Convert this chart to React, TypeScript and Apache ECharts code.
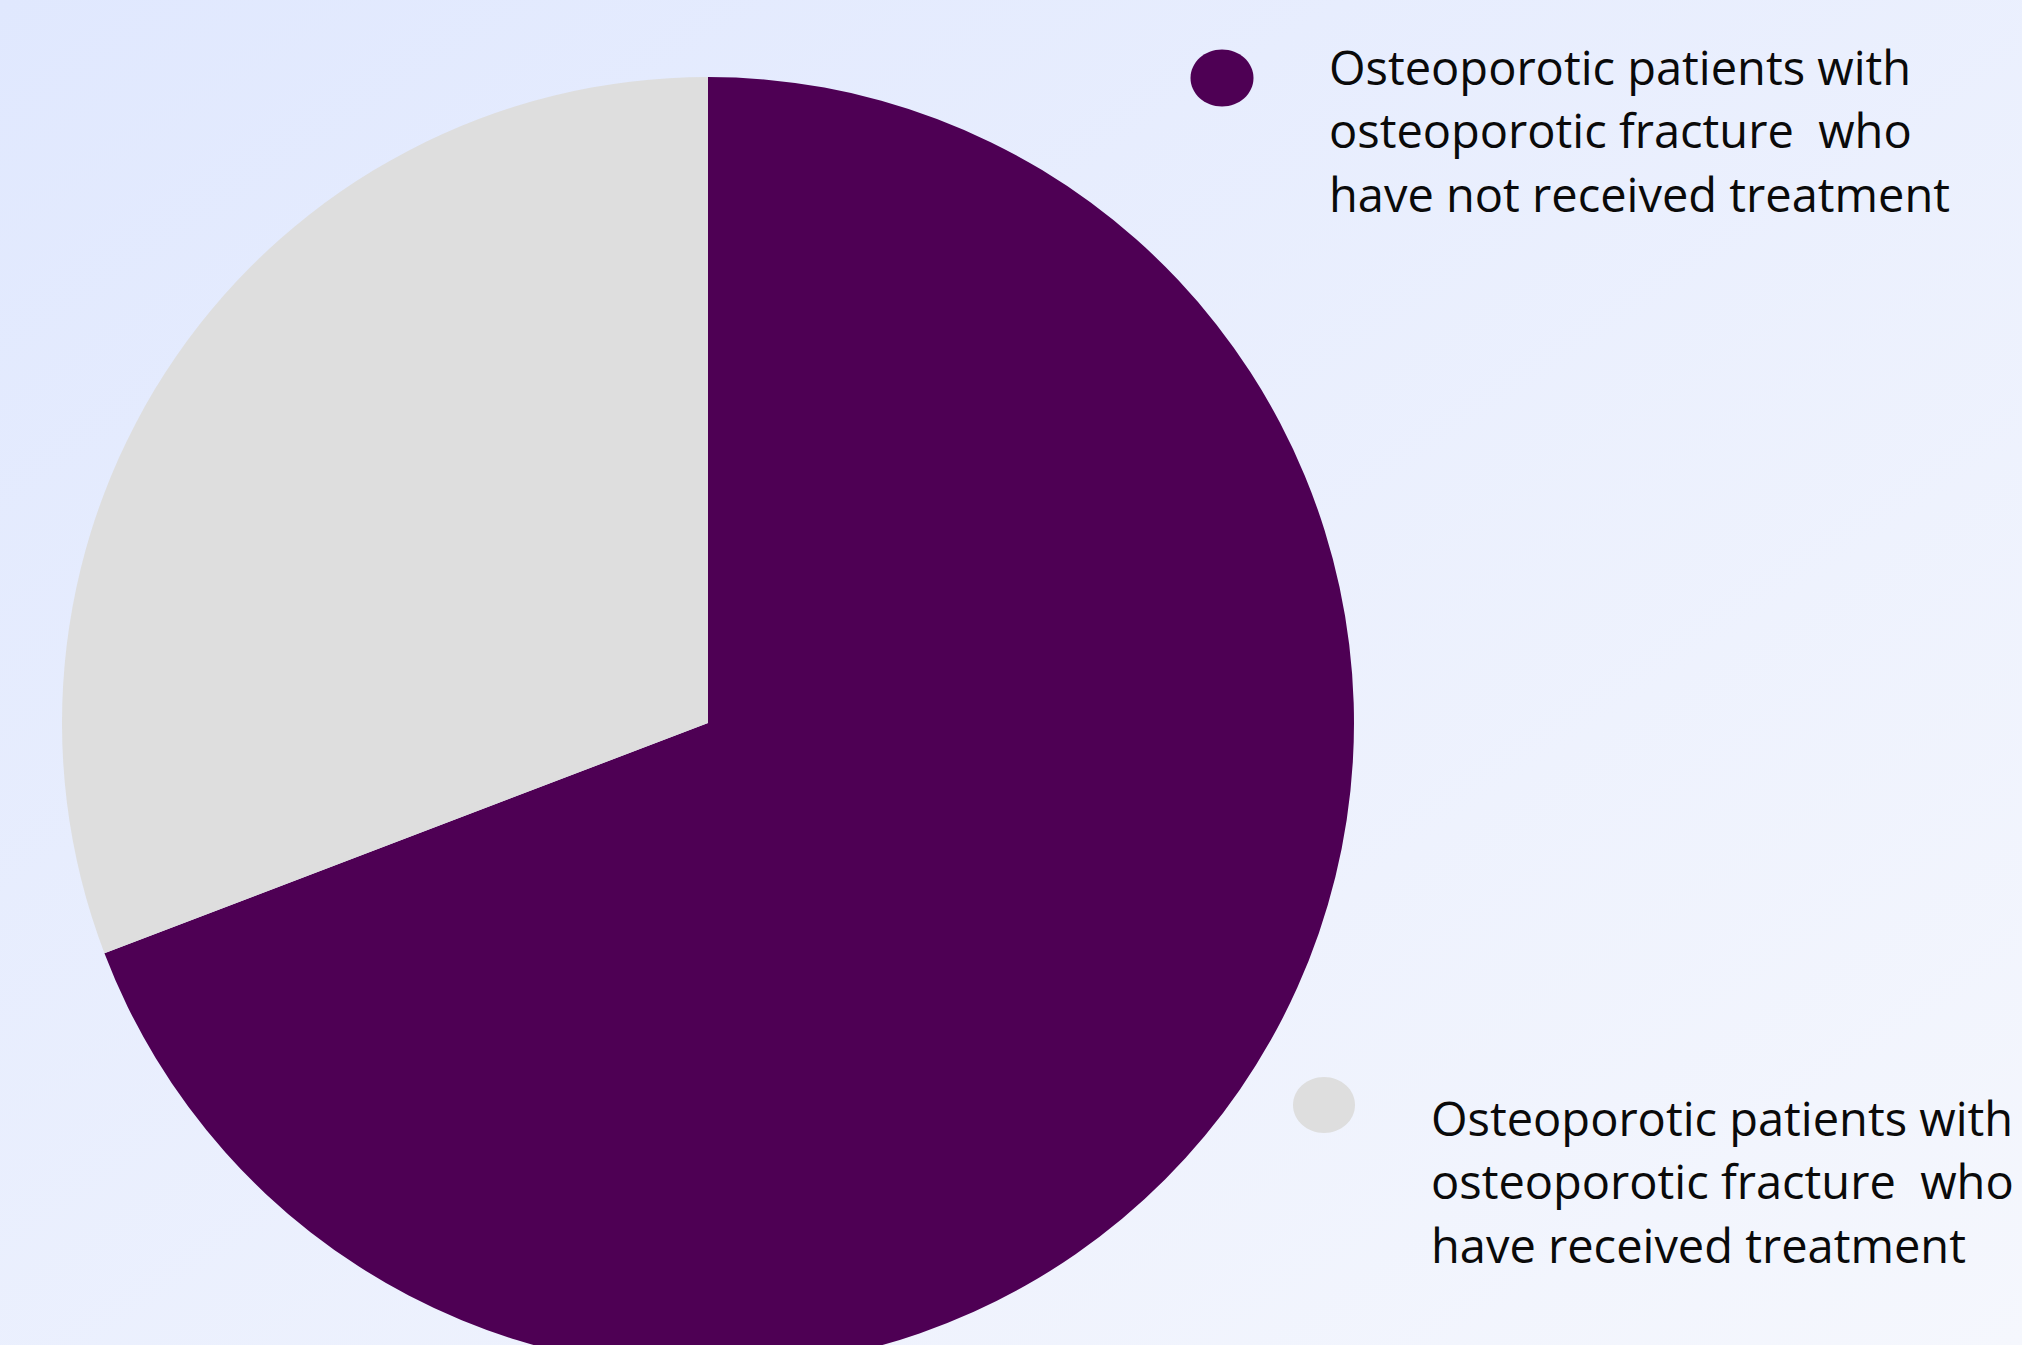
import React, { useEffect, useRef } from "react";
import * as echarts from "echarts";

const categories = [
  "Osteoporotic patients with osteoporotic fracture  who have not received treatment",
  "Osteoporotic patients with osteoporotic fracture  who have received treatment",
];
const legendLines = [
  ["Osteoporotic patients with", "osteoporotic fracture  who", "have not received treatment"],
  ["Osteoporotic patients with", "osteoporotic fracture  who", "have received treatment"],
];
const values = [69.2, 30.8];
const colors = ["#4e0054", "#dedede"];

const FONT = '"Open Sans", "Noto Sans", sans-serif';

export default function App() {
  const ref = useRef<HTMLDivElement>(null);
  useEffect(() => {
    if (!ref.current) return;
    const chart = echarts.init(ref.current, null, { renderer: "svg" });
    const legendPos = [
      { cx: 1222, cy: 78, rx: 31.5, ry: 28.5, tx: 1329, ty: 130 },
      { cx: 1324, cy: 1105, rx: 31, ry: 28, tx: 1431, ty: 1181 },
    ];
    const graphics: any[] = [];
    categories.forEach((_, i) => {
      const p = legendPos[i];
      graphics.push({
        type: "ellipse",
        shape: { cx: p.cx, cy: p.cy, rx: p.rx, ry: p.ry },
        style: { fill: colors[i] },
        silent: true,
      });
      graphics.push({
        type: "text",
        x: p.tx,
        y: p.ty,
        style: {
          text: legendLines[i].join("\n"),
          fontFamily: FONT,
          fontSize: 47,
          lineHeight: 63.5,
          fill: "#0a0a0a",
          align: "left",
          verticalAlign: "middle",
        },
        silent: true,
      });
    });
    chart.setOption({
      animation: false,
      backgroundColor: new echarts.graphic.LinearGradient(0, 0, 1, 1, [
        { offset: 0, color: "#e0e8fe" },
        { offset: 1, color: "#f5f7fd" },
      ]),
      color: colors,
      series: [
        {
          type: "pie",
          center: [708, 723],
          radius: 646,
          startAngle: 90,
          clockwise: true,
          silent: true,
          label: { show: false },
          labelLine: { show: false },
          emphasis: { disabled: true },
          itemStyle: { borderWidth: 0 },
          data: categories.map((name, i) => ({ name, value: values[i] })),
        },
      ],
      graphic: graphics,
    });
    return () => chart.dispose();
  }, []);
  return (
    <div
      ref={ref}
      style={{ position: "fixed", left: 0, top: 0, width: 2022, height: 1345 }}
    />
  );
}
